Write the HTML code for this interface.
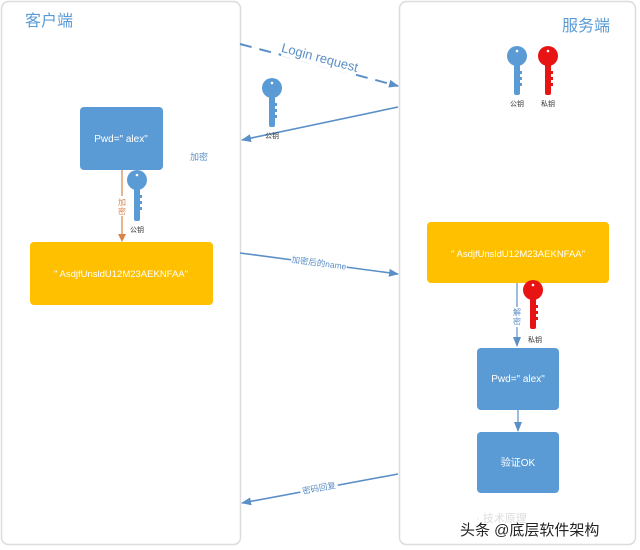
<!DOCTYPE html>
<html><head><meta charset="utf-8"><style>
html,body{margin:0;padding:0;background:#fff;}
svg{display:block;}
text{font-family:"Liberation Sans","Noto Sans CJK SC",sans-serif;}
</style></head><body>
<svg width="640" height="550" viewBox="0 0 640 550" xmlns="http://www.w3.org/2000/svg">
<defs>
<marker id="ab" markerWidth="10" markerHeight="8" refX="9" refY="4" orient="auto" markerUnits="userSpaceOnUse"><path d="M0,0 L10,4 L0,8 z" fill="#5b8fc7"/></marker>
<marker id="ao" markerWidth="8" markerHeight="8" refX="7" refY="4" orient="auto" markerUnits="userSpaceOnUse"><path d="M0,0 L8,4 L0,8 z" fill="#d9834a"/></marker>
</defs>
<rect x="1.5" y="1.5" width="239" height="543" rx="7" fill="#fff" stroke="#dcdcdc" stroke-width="1.5"/>
<rect x="399.5" y="1.5" width="236" height="543" rx="7" fill="#fff" stroke="#dcdcdc" stroke-width="1.5"/>
<text x="25" y="26" font-size="16" fill="#5b9bd5">客户端</text>
<text x="562" y="31" font-size="16" fill="#5b9bd5">服务端</text>

<!-- login request -->
<line x1="240" y1="44" x2="398" y2="86" stroke="#5b8fc7" stroke-width="2" stroke-dasharray="12,8" marker-end="url(#ab)"/>
<rect x="282" y="48" width="76" height="18" fill="#fff" transform="rotate(15 320 57)"/>
<text x="320" y="62" font-size="13" fill="#5b8fc7" text-anchor="middle" transform="rotate(15 320 57)">Login request</text>
<line x1="398" y1="107" x2="242" y2="140" stroke="#5b8fc7" stroke-width="1.6" marker-end="url(#ab)"/>

<!-- key symbol builder -->
<g id="k1" fill="#5b9bd5"><circle cx="272" cy="88" r="10"/><rect x="269" y="95" width="6" height="32" rx="2"/><rect x="274" y="103" width="3" height="3"/><rect x="274" y="109" width="3" height="3"/><rect x="274" y="115" width="3" height="3"/><circle cx="272" cy="83" r="1.3" fill="#fff"/></g>
<text x="272" y="138" font-size="7" fill="#333" text-anchor="middle">公钥</text>

<g fill="#5b9bd5"><circle cx="517" cy="56" r="10"/><rect x="514" y="63" width="6" height="32" rx="2"/><rect x="519" y="71" width="3" height="3"/><rect x="519" y="77" width="3" height="3"/><rect x="519" y="83" width="3" height="3"/><circle cx="517" cy="51" r="1.3" fill="#fff"/></g>
<text x="517" y="106" font-size="7" fill="#333" text-anchor="middle">公钥</text>
<g fill="#e81414"><circle cx="548" cy="56" r="10"/><rect x="545" y="63" width="6" height="32" rx="2"/><rect x="550" y="71" width="3" height="3"/><rect x="550" y="77" width="3" height="3"/><rect x="550" y="83" width="3" height="3"/><circle cx="548" cy="51" r="1.3" fill="#fff"/></g>
<text x="548" y="106" font-size="7" fill="#333" text-anchor="middle">私钥</text>

<!-- client -->
<rect x="80" y="107" width="83" height="63" rx="4" fill="#5b9bd5"/>
<text x="121" y="142" font-size="10" fill="#fff" text-anchor="middle">Pwd="  alex"</text>
<text x="190" y="160" font-size="9" fill="#5b8fc7">加密</text>
<line x1="122" y1="170" x2="122" y2="241" stroke="#d9834a" stroke-width="1.2" marker-end="url(#ao)"/>
<rect x="116" y="196" width="12" height="20" fill="#fff"/>
<text x="122" y="205" font-size="8" fill="#d9834a" text-anchor="middle">加</text>
<text x="122" y="214" font-size="8" fill="#d9834a" text-anchor="middle">密</text>
<g fill="#5b9bd5"><circle cx="137" cy="180" r="10"/><rect x="134" y="187" width="6" height="34" rx="2"/><rect x="139" y="195" width="3" height="3"/><rect x="139" y="201" width="3" height="3"/><rect x="139" y="207" width="3" height="3"/><circle cx="137" cy="175" r="1.3" fill="#fff"/></g>
<text x="137" y="232" font-size="7" fill="#333" text-anchor="middle">公钥</text>
<rect x="30" y="242" width="183" height="63" rx="4" fill="#ffc000"/>
<text x="121" y="277" font-size="9.5" fill="#fff" text-anchor="middle">"  AsdjfUnsldU12M23AEKNFAA"</text>

<line x1="240" y1="253" x2="398" y2="274" stroke="#5b8fc7" stroke-width="1.6" marker-end="url(#ab)"/>
<rect x="291" y="256" width="56" height="11" fill="#fff" transform="rotate(7.5 319 263)"/>
<text x="319" y="266" font-size="8.5" fill="#5b8fc7" text-anchor="middle" transform="rotate(7.5 319 263)">加密后的name</text>

<!-- server -->
<rect x="427" y="222" width="182" height="61" rx="4" fill="#ffc000"/>
<text x="518" y="257" font-size="9.5" fill="#fff" text-anchor="middle">"  AsdjfUnsldU12M23AEKNFAA"</text>
<line x1="517" y1="283" x2="517" y2="346" stroke="#5b8fc7" stroke-width="1.2" marker-end="url(#ab)"/>
<rect x="511" y="307" width="12" height="20" fill="#fff"/>
<text x="517" y="315" font-size="8" fill="#5b8fc7" text-anchor="middle">解</text>
<text x="517" y="324" font-size="8" fill="#5b8fc7" text-anchor="middle">密</text>
<g fill="#e81414"><circle cx="533" cy="290" r="10"/><rect x="530" y="297" width="6" height="32" rx="2"/><rect x="535" y="305" width="3" height="3"/><rect x="535" y="311" width="3" height="3"/><rect x="535" y="317" width="3" height="3"/><circle cx="533" cy="285" r="1.3" fill="#fff"/></g>
<text x="535" y="342" font-size="7" fill="#333" text-anchor="middle">私钥</text>
<rect x="477" y="348" width="82" height="62" rx="4" fill="#5b9bd5"/>
<text x="518" y="382" font-size="10" fill="#fff" text-anchor="middle">Pwd="  alex"</text>
<line x1="518" y1="410" x2="518" y2="431" stroke="#5b8fc7" stroke-width="1.2" marker-end="url(#ab)"/>
<rect x="477" y="432" width="82" height="61" rx="4" fill="#5b9bd5"/>
<text x="518" y="466" font-size="10" fill="#fff" text-anchor="middle">验证OK</text>

<line x1="398" y1="474" x2="242" y2="503" stroke="#5b8fc7" stroke-width="1.6" marker-end="url(#ab)"/>
<rect x="300" y="480" width="38" height="11" fill="#fff" transform="rotate(-10.5 319 488)"/>
<text x="319" y="491" font-size="8.5" fill="#5b8fc7" text-anchor="middle" transform="rotate(-10.5 319 488)">密码回复</text>

<text x="476" y="522" font-size="11" fill="#ddd">· 技术原理</text>
<text x="460" y="535" font-size="15" fill="#222">头条 @底层软件架构</text>
</svg>
</body></html>
